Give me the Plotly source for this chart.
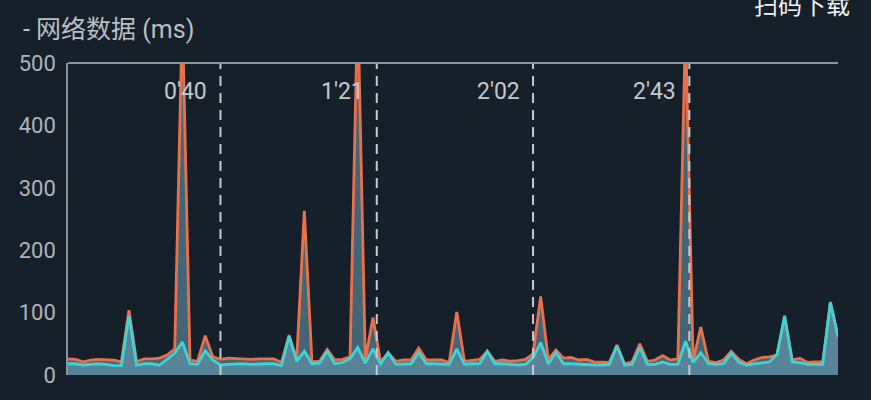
import plotly.graph_objects as go

# time in seconds (sampled every 2 s)
times = list(range(0, 204, 2))

orange_ms = [26, 25, 21, 24, 25, 25, 24, 21, 104, 21,
             26, 26, 27, 32, 42, 580, 24, 22, 63, 29,
             25, 27, 26, 26, 25, 26, 26, 26, 20, 64,
             25, 263, 21, 22, 41, 24, 25, 29, 600, 24,
             92, 21, 35, 22, 24, 24, 43, 24, 24, 24,
             20, 101, 22, 24, 25, 38, 22, 24, 22, 23,
             25, 34, 126, 25, 40, 27, 28, 24, 25, 21,
             20, 20, 48, 18, 21, 50, 22, 24, 31, 24,
             26, 560, 22, 77, 22, 20, 24, 38, 25, 18,
             24, 28, 29, 32, 93, 24, 27, 20, 21, 21,
             115, 60]

cyan_ms = [18, 18, 16, 17, 18, 17, 15, 15, 95, 16,
           18, 18, 16, 25, 35, 53, 18, 17, 39, 24,
           16, 17, 18, 18, 17, 18, 18, 18, 15, 62,
           22, 38, 18, 19, 38, 18, 20, 26, 44, 19,
           42, 18, 36, 17, 17, 18, 36, 18, 18, 17,
           17, 42, 17, 18, 18, 38, 18, 18, 17, 16,
           17, 28, 52, 18, 36, 18, 18, 17, 17, 16,
           16, 17, 47, 16, 17, 44, 17, 17, 21, 17,
           17, 54, 20, 36, 18, 17, 18, 35, 20, 16,
           18, 20, 21, 33, 95, 21, 20, 17, 17, 17,
           117, 62]

marker_times = [40, 81, 122, 163]
marker_labels = ["0'40", "1'21", "2'02", "2'43"]

y_ticks = [0, 100, 200, 300, 400, 500]

BG = "#16202a"
FILL = "rgba(108,158,180,0.55)"
FONT = "Roboto, 'Noto Sans CJK SC', sans-serif"

fig = go.Figure()
fig.add_trace(go.Scatter(x=times, y=orange_ms, mode="lines",
                         line=dict(color="#e8714c", width=2.8),
                         fill="tozeroy", fillcolor=FILL, hoverinfo="skip"))
fig.add_trace(go.Scatter(x=times, y=cyan_ms, mode="lines",
                         line=dict(color="#3fd3d6", width=2.8),
                         fill="tozeroy", fillcolor=FILL, hoverinfo="skip"))

shapes = []
annotations = []
for t, lab in zip(marker_times, marker_labels):
    shapes.append(dict(type="line", xref="x", yref="paper", x0=t, x1=t, y0=0, y1=1,
                       line=dict(color="#c5cad0", width=2, dash="10px,7px"), layer="above"))
    annotations.append(dict(x=t, xref="x", y=0.908, yref="paper", text=lab,
                            showarrow=False, xanchor="right", yanchor="middle", xshift=-11,
                            font=dict(family=FONT, size=23, color="#c3c8cd")))
# top border
shapes.append(dict(type="line", xref="paper", yref="paper", x0=0, x1=1, y0=1, y1=1,
                   line=dict(color="#8d939a", width=2), layer="above"))

annotations.append(dict(x=0, xref="paper", y=1, yref="paper", xanchor="left", yanchor="middle",
                        xshift=-47, yshift=34, text="- 网络数据 (ms)", showarrow=False,
                        font=dict(family=FONT, size=25, color="#b9bfc5")))
annotations.append(dict(x=1, xref="paper", y=1, yref="paper", xanchor="right", yanchor="middle",
                        xshift=14, yshift=60, text="扫码下载", showarrow=False,
                        font=dict(family="'Noto Sans CJK SC', sans-serif", size=24, color="#f2f4f5")))

fig.update_layout(
    width=871, height=400,
    margin=dict(l=68, r=33, t=63, b=22),
    paper_bgcolor=BG, plot_bgcolor=BG,
    showlegend=False,
    shapes=shapes, annotations=annotations,
    xaxis=dict(range=[0, 202], showgrid=False, zeroline=False, showticklabels=False,
               showline=False, fixedrange=True),
    yaxis=dict(range=[0, 500], tickvals=y_ticks, showgrid=False, zeroline=False,
               showline=True, linecolor="#8d939a", linewidth=1.5,
               ticks="outside", ticklen=6, tickcolor=BG,
               tickfont=dict(family=FONT, size=22, color="#aeb4ba"), fixedrange=True),
)

fig.write_html("out.html", config={"displayModeBar": False},
               post_script="document.body.style.margin='0';document.body.style.background='%s';" % BG)
